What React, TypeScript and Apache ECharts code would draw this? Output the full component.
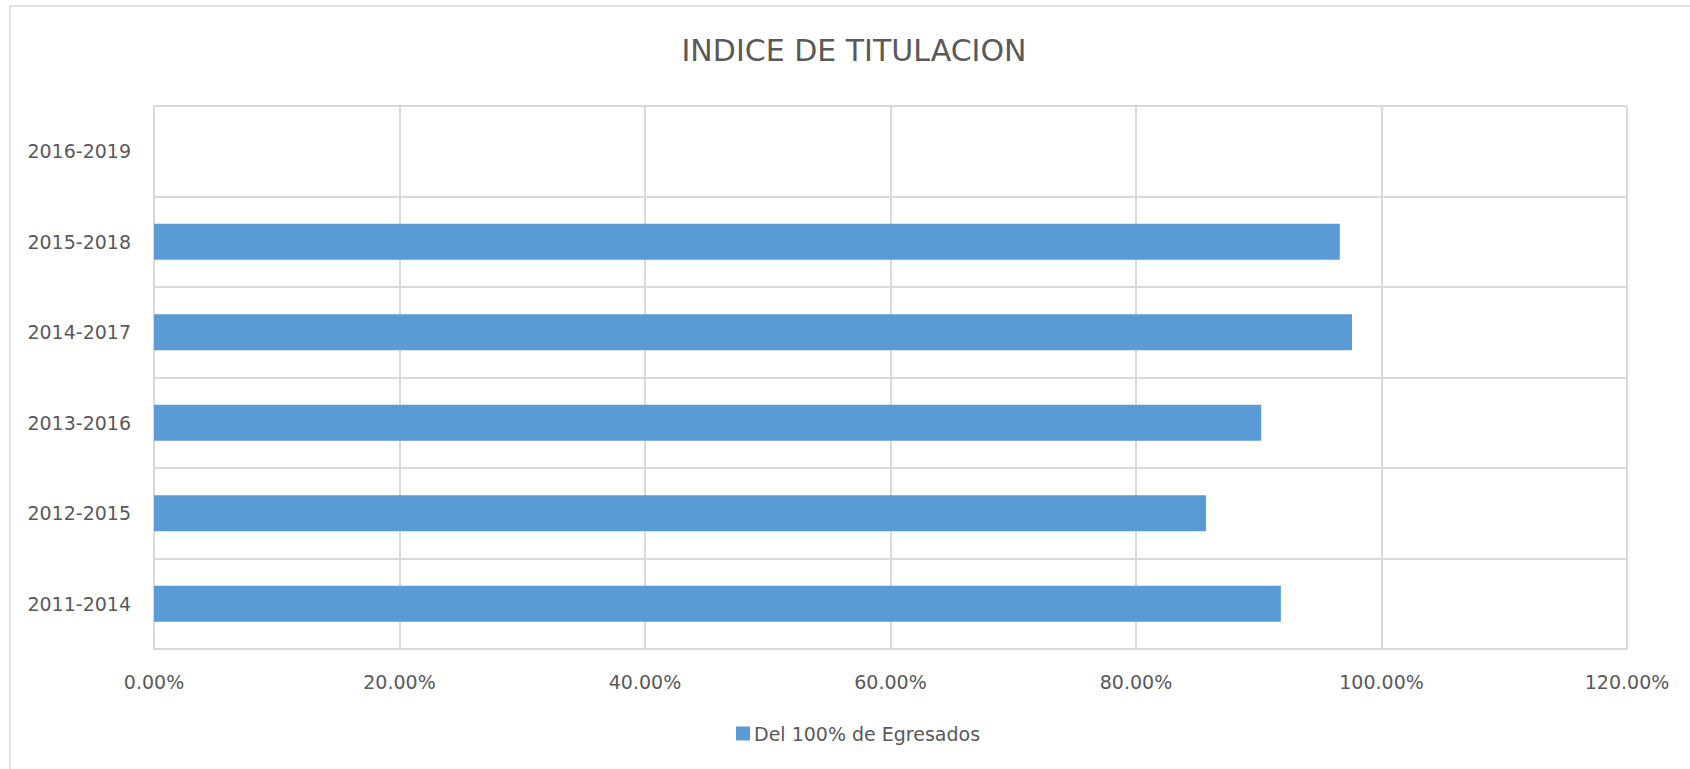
import React, { useEffect, useRef } from "react";
import * as echarts from "echarts";

const titleText = "INDICE DE TITULACION";
const categories = ["2011-2014", "2012-2015", "2013-2016", "2014-2017", "2015-2018", "2016-2019"];
const seriesName = "Del 100% de Egresados";
const values: (number | null)[] = [0.918, 0.857, 0.902, 0.976, 0.966, null];
const xMin = 0;
const xMax = 1.2;
const xStep = 0.2;

export default function App() {
  const ref = useRef<HTMLDivElement>(null);
  useEffect(() => {
    document.body.style.margin = "0";
    const chart = echarts.init(ref.current!, undefined, { renderer: "svg" });
    const font = "DejaVu Sans";
    const txt = "#595959";
    chart.setOption({
      animation: false,
      backgroundColor: "#ffffff",
      textStyle: { fontFamily: font },
      graphic: [
        {
          type: "rect",
          shape: { x: 10, y: 6, width: 1700, height: 800 },
          style: { fill: "none", stroke: "#d9d9d9", lineWidth: 1.5 },
          silent: true,
        },
      ],
      title: {
        text: titleText,
        left: 849,
        top: 30,
        textAlign: "center",
        textStyle: { fontFamily: font, fontSize: 30, fontWeight: "normal", color: txt },
      },
      legend: {
        left: 731,
        top: 719,
        icon: "rect",
        itemWidth: 14,
        itemHeight: 14,
        itemGap: 6,
        textStyle: { fontFamily: font, fontSize: 19, color: txt, padding: [0, 0, 0, -1] },
        data: [seriesName],
      },
      grid: { left: 154, right: 63, top: 106, bottom: 120, containLabel: false },
      xAxis: {
        type: "value",
        min: xMin,
        max: xMax,
        interval: xStep,
        axisLine: { show: false },
        axisTick: { show: false },
        axisLabel: {
          fontFamily: font,
          fontSize: 19,
          color: txt,
          margin: 23,
          formatter: (v: number) => (v * 100).toFixed(2) + "%",
        },
        splitLine: { show: true, lineStyle: { color: "#d9d9d9", width: 2 } },
      },
      yAxis: {
        type: "category",
        data: categories,
        axisLine: { show: true, lineStyle: { color: "#d9d9d9", width: 2 } },
        axisTick: { show: false },
        axisLabel: { fontFamily: font, fontSize: 19, color: txt, margin: 23 },
        splitLine: { show: true, lineStyle: { color: "#d9d9d9", width: 2 } },
      },
      series: [
        {
          name: seriesName,
          type: "bar",
          data: values,
          barWidth: 36,
          itemStyle: { color: "#5b9bd5" },
        },
      ],
    });
    return () => chart.dispose();
  }, []);
  return (
    <div
      ref={ref}
      style={{ position: "fixed", left: 0, top: 0, width: 1690, height: 769 }}
    />
  );
}
